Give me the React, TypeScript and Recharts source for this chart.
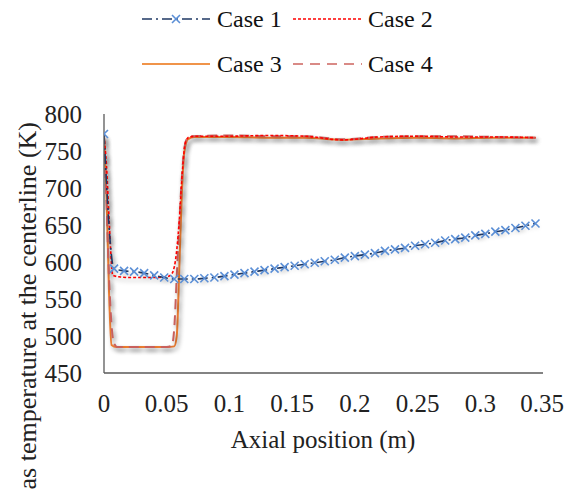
import React from "react";
import { LineChart, Line, XAxis, YAxis, Label } from "recharts";

// axial positions (m) and centerline gas temperature (K)
const case1X = [
  0, 0.008, 0.016, 0.024, 0.032, 0.04, 0.048, 0.056, 0.064, 0.072, 0.08, 0.088,
  0.096, 0.104, 0.112, 0.12, 0.128, 0.136, 0.144, 0.152, 0.16, 0.168, 0.176,
  0.184, 0.192, 0.2, 0.208, 0.216, 0.224, 0.232, 0.24, 0.248, 0.256, 0.264,
  0.272, 0.28, 0.288, 0.296, 0.304, 0.312, 0.32, 0.328, 0.336, 0.344,
];
const case1T = [
  773, 591, 588, 587, 585, 582, 579, 577, 577, 577, 578, 579, 581, 583, 585,
  587, 589, 591, 593, 595, 597, 599, 601, 603, 606, 608, 610, 612, 615, 617,
  619, 622, 624, 626, 629, 631, 633, 636, 638, 641, 643, 646, 649, 652,
];

const case2X = [
  0, 0.002, 0.004, 0.007, 0.012, 0.02, 0.03, 0.04, 0.05, 0.054, 0.058, 0.06,
  0.0625, 0.065, 0.068, 0.075, 0.1, 0.13, 0.16, 0.19, 0.22, 0.25, 0.28, 0.31,
  0.344,
];
const case2T = [
  770, 730, 660, 582, 580, 579, 579, 579, 580, 584, 616, 656, 723, 762, 769,
  770, 770, 771, 770, 765, 769, 770, 769, 769, 768,
];

const case3X = [
  0, 0.002, 0.004, 0.006, 0.01, 0.03, 0.05, 0.056, 0.058, 0.06, 0.062, 0.064,
  0.067, 0.072, 0.1, 0.13, 0.16, 0.19, 0.22, 0.25, 0.28, 0.31, 0.344,
];
const case3T = [
  770, 690, 560, 488, 485, 485, 485, 486, 500, 590, 690, 748, 766, 769, 769,
  768, 768, 765, 767, 768, 767, 768, 768,
];

const case4X = [
  0, 0.002, 0.004, 0.006, 0.008, 0.011, 0.03, 0.05, 0.054, 0.056, 0.058, 0.06,
  0.062, 0.064, 0.066, 0.07, 0.1, 0.13, 0.16, 0.19, 0.22, 0.25, 0.28, 0.31,
  0.344,
];
const case4T = [
  770, 680, 580, 515, 490, 485, 485, 485, 487, 510, 580, 650, 712, 752, 766,
  770, 771, 770, 770, 766, 769, 770, 770, 769, 768,
];

const xTicks = [0, 0.05, 0.1, 0.15, 0.2, 0.25, 0.3, 0.35];
const yTicks = [450, 500, 550, 600, 650, 700, 750, 800];

const zip = (xs: number[], ys: number[]) => xs.map((x, i) => ({ x, t: ys[i] }));

const case1 = zip(case1X, case1T);
const case2 = zip(case2X, case2T);
const case3 = zip(case3X, case3T);
const case4 = zip(case4X, case4T);

const FONT = "'Liberation Serif', 'Times New Roman', serif";
const C1_LINE = "#1f3864";
const C1_MARK = "#5b8fd6";
const C2 = "#ff0000";
const C3 = "#ed7d31";
const C4 = "#c9605c";

const CrossDot = (props: any) => {
  const { cx, cy, index } = props;
  if (cx == null || cy == null) return <g key={`c1-${index}`} />;
  const s = 4;
  return (
    <path
      key={`c1-${index}`}
      d={`M${cx - s},${cy - s}L${cx + s},${cy + s}M${cx - s},${cy + s}L${cx + s},${cy - s}`}
      stroke={C1_MARK}
      strokeWidth={1.6}
      fill="none"
    />
  );
};

function LegendOverlay() {
  const text = { fontFamily: FONT, fontSize: 24, fill: "#111" } as const;
  return (
    <svg
      width={564}
      height={90}
      style={{ position: "absolute", left: 0, top: 0, pointerEvents: "none" }}
    >
      <line x1={142} y1={19} x2={210} y2={19} stroke={C1_LINE} strokeWidth={1.5} strokeDasharray="10 4 2 4" />
      <path d="M172,15L180,23M172,23L180,15" stroke={C1_MARK} strokeWidth={1.6} />
      <text x={217} y={27} {...text}>Case 1</text>
      <line x1={293} y1={19} x2={362} y2={19} stroke={C2} strokeWidth={1.5} strokeDasharray="3 2" />
      <text x={368} y={27} {...text}>Case 2</text>
      <line x1={142} y1={64} x2={210} y2={64} stroke="#f0944a" strokeWidth={2} />
      <text x={217} y={72} {...text}>Case 3</text>
      <line x1={293} y1={64} x2={362} y2={64} stroke="#d98a86" strokeWidth={2} strokeDasharray="10 7" />
      <text x={368} y={72} {...text}>Case 4</text>
    </svg>
  );
}

export default function App() {
  return (
    <div style={{ position: "absolute", left: 0, top: 0, width: 564, height: 491, background: "#fff" }}>
      <style>{`.shadowed .recharts-line-curve { filter: drop-shadow(2px 3px 2px rgba(0,0,0,0.35)); }`}</style>
      <LineChart width={564} height={491} margin={{ top: 114, right: 21, bottom: 58, left: 0 }}>
        <XAxis
          type="number"
          dataKey="x"
          domain={[0, 0.35]}
          ticks={xTicks}
          allowDataOverflow
          height={60}
          tickLine={false}
          tickSize={0}
          tickMargin={21}
          stroke="#5a5a5a"
          strokeWidth={1.3}
          tick={{ fill: "#222", fontFamily: FONT, fontSize: 25 }}
        >
          <Label
            content={() => (
              <text x={323} y={448} textAnchor="middle" fontFamily={FONT} fontSize={25} fill="#222">
                Axial position (m)
              </text>
            )}
          />
        </XAxis>
        <YAxis
          type="number"
          domain={[450, 800]}
          ticks={yTicks}
          width={104}
          tickLine={false}
          tickSize={0}
          tickMargin={22}
          stroke="#5a5a5a"
          strokeWidth={1.3}
          tick={{ fill: "#222", fontFamily: FONT, fontSize: 25 }}
        >
          <Label
            content={() => (
              <text
                x={36}
                y={122}
                transform="rotate(-90, 36, 122)"
                textAnchor="end"
                fontFamily={FONT}
                fontSize={26}
                fill="#222"
              >
                as temperature at the centerline (K)
              </text>
            )}
          />
        </YAxis>
        <Line
          className="shadowed"
          data={case3}
          dataKey="t"
          type="monotone"
          stroke={C3}
          strokeWidth={2}
          dot={false}
          isAnimationActive={false}
        />
        <Line
          className="shadowed"
          data={case4}
          dataKey="t"
          type="monotone"
          stroke={C4}
          strokeWidth={2}
          strokeDasharray="10 6"
          dot={false}
          isAnimationActive={false}
        />
        <Line
          className="shadowed"
          data={case2}
          dataKey="t"
          type="monotone"
          stroke={C2}
          strokeWidth={1.6}
          strokeDasharray="3 2"
          dot={false}
          isAnimationActive={false}
        />
        <Line
          className="shadowed"
          data={case1}
          dataKey="t"
          type="monotone"
          stroke={C1_LINE}
          strokeWidth={1.6}
          strokeDasharray="10 4 2 4"
          dot={CrossDot}
          isAnimationActive={false}
        />
      </LineChart>
      <LegendOverlay />
    </div>
  );
}
